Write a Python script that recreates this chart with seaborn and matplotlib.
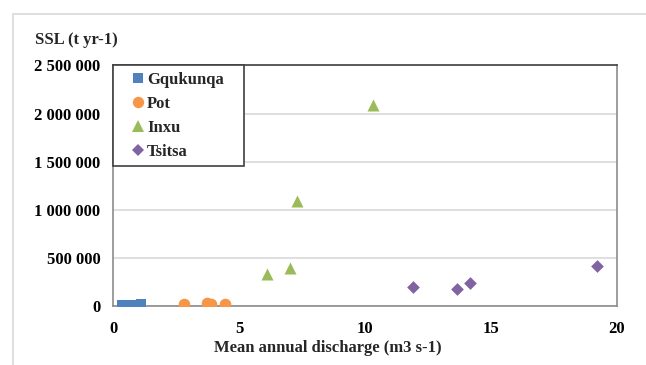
import matplotlib
matplotlib.use("Agg")
import matplotlib.pyplot as plt
from matplotlib.lines import Line2D
from matplotlib.legend_handler import HandlerLine2D
from matplotlib.ticker import FuncFormatter, MultipleLocator
import pandas as pd
import seaborn as sns

# Mean annual discharge (m3 s-1) and suspended sediment load (t yr-1) per catchment
gqukunqa_q = [0.36, 0.71, 1.11]
gqukunqa_ssl = [6000, 6000, 20000]
pot_q = [2.82, 3.73, 3.89, 4.44]
pot_ssl = [25000, 30000, 22000, 25000]
inxu_q = [6.1, 7.02, 7.31, 10.33]
inxu_ssl = [335000, 393000, 1095000, 2085000]
tsitsa_q = [11.92, 13.65, 14.15, 19.22]
tsitsa_ssl = [194000, 173000, 238000, 417000]

series = ["Gqukunqa", "Pot", "Inxu", "Tsitsa"]
colors = ["#4F81BD", "#F79646", "#9BBB59", "#8064A2"]
markers = ["s", "o", "^", "D"]
sizes = [55, 70, 75, 42]
legend_ms = [7.3, 8.2, 8.6, 6.4]

df = pd.DataFrame({
    "q": gqukunqa_q + pot_q + inxu_q + tsitsa_q,
    "ssl": gqukunqa_ssl + pot_ssl + inxu_ssl + tsitsa_ssl,
    "river": (["Gqukunqa"] * len(gqukunqa_q) + ["Pot"] * len(pot_q)
              + ["Inxu"] * len(inxu_q) + ["Tsitsa"] * len(tsitsa_q)),
})

sns.set_theme(style="white")
plt.rcParams["font.family"] = ["Liberation Serif", "DejaVu Serif"]
plt.rcParams["font.weight"] = "bold"

W, H = 646, 365
fig = plt.figure(figsize=(W / 100, H / 100), dpi=100)
ax = fig.add_axes([113 / W, 1 - 306 / H, (617 - 113) / W, (306 - 65.4) / H])

for name, col, mk, sz in zip(series, colors, markers, sizes):
    sub = df[df["river"] == name]
    sns.scatterplot(data=sub, x="q", y="ssl", color=col, marker=mk, s=sz,
                    linewidth=0, ax=ax, zorder=3, legend=False)

ax.set_xlim(0, 20)
ax.set_ylim(0, 2500000)
ax.xaxis.set_major_locator(MultipleLocator(5))
ax.yaxis.set_major_locator(MultipleLocator(500000))
ax.yaxis.set_major_formatter(FuncFormatter(lambda v, p: f"{int(v):,}".replace(",", " ")))
ax.set_xlabel("")
ax.set_ylabel("")
ax.grid(axis="y", color="#D9D9D9", linewidth=1.2)
ax.grid(axis="x", visible=False)
ax.set_axisbelow(True)

for side in ["left", "bottom", "right"]:
    ax.spines[side].set_color("#8C8C8C")
    ax.spines[side].set_linewidth(1.2)
ax.spines["top"].set_color("#404040")
ax.spines["top"].set_linewidth(1.2)

ax.tick_params(axis="both", length=0, labelsize=12, colors="black")
ax.tick_params(axis="y", pad=9)
ax.tick_params(axis="x", pad=10.5)
for lbl in ax.get_xticklabels() + ax.get_yticklabels():
    lbl.set_fontweight("bold")

fig.text(35 / W, 1 - 40 / H, "SSL (t yr-1)", ha="left", va="center",
         fontsize=12, fontweight="bold")
fig.text(328 / W, 1 - 347.7 / H, "Mean annual discharge (m3 s-1)", ha="center",
         va="center", fontsize=12, fontweight="bold")

handles = [Line2D([0], [0], marker=mk, color=col, linestyle="none",
                  markersize=ms, markeredgewidth=0)
           for col, mk, ms in zip(colors, markers, legend_ms)]
leg = ax.legend(handles, series, loc="upper left", bbox_to_anchor=(0, 1, 131 / 504, 0),
                mode="expand", frameon=True, fancybox=False, framealpha=1,
                edgecolor="#404040", handlelength=1.46,
                handletextpad=0.2, labelspacing=0.48, borderpad=0.38,
                borderaxespad=0, prop={"weight": "bold", "size": 12},
                handler_map={Line2D: HandlerLine2D(xpad=0.78)})
leg.get_frame().set_linewidth(1.2)

# Light chart-area frame around the figure
fig.add_artist(Line2D([12.5 / W, 12.5 / W], [0, 1 - 14 / H], transform=fig.transFigure,
                      color="#D9D9D9", linewidth=1.2))
fig.add_artist(Line2D([12.5 / W, 1], [1 - 14 / H, 1 - 14 / H], transform=fig.transFigure,
                      color="#D9D9D9", linewidth=1.2))

fig.savefig("out.png", dpi=100, facecolor="white")
